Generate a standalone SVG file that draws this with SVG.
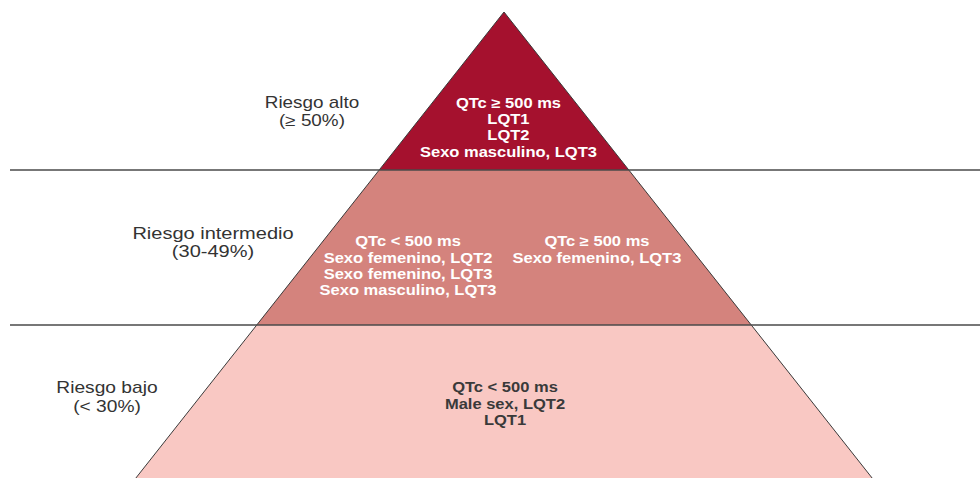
<svg xmlns="http://www.w3.org/2000/svg" width="980" height="478" viewBox="0 0 980 478">
  <style>
    .edge { stroke: #3a3a3a; stroke-width: 1; fill: none; }
    .rule { stroke: #4a4a4a; stroke-width: 1.3; }
    .lbl { font-family: "Liberation Sans", Arial, sans-serif; font-size: 16px; fill: #333333; text-anchor: middle; }
    .wt { font-family: "Liberation Sans", Arial, sans-serif; font-size: 14px; font-weight: bold; fill: #ffffff; text-anchor: middle; }
    .dt { font-family: "Liberation Sans", Arial, sans-serif; font-size: 14px; font-weight: bold; fill: #3a3a3a; text-anchor: middle; }
  </style>

  <rect width="980" height="478" fill="#ffffff"/>

  <!-- pyramid tiers -->
  <g id="tier-high">
    <polygon points="504,12 628.8,170 379.2,170" fill="#a5112e"/>
    <g transform="matrix(1.18,0,0,1,-89.8,0)">
      <text class="wt" x="507" y="108">QTc ≥ 500 ms</text>
      <text class="wt" x="507" y="124">LQT1</text>
      <text class="wt" x="507" y="140">LQT2</text>
      <text class="wt" x="507" y="157">Sexo masculino, LQT3</text>
    </g>
  </g>

  <g id="tier-mid">
    <polygon points="379.2,170 628.8,170 751.3,325 256.7,325" fill="#d4837d"/>
    <g transform="matrix(1.18,0,0,1,-73.4,0)">
      <text class="wt" x="408" y="246">QTc &lt; 500 ms</text>
      <text class="wt" x="408" y="263">Sexo femenino, LQT2</text>
      <text class="wt" x="408" y="279">Sexo femenino, LQT3</text>
      <text class="wt" x="408" y="295">Sexo masculino, LQT3</text>
    </g>
    <g transform="matrix(1.18,0,0,1,-107.5,0)">
      <text class="wt" x="597" y="246">QTc ≥ 500 ms</text>
      <text class="wt" x="597" y="263">Sexo femenino, LQT3</text>
    </g>
  </g>

  <g id="tier-low">
    <polygon points="256.7,325 751.3,325 872.1,478 135.9,478" fill="#f9c8c3"/>
    <g transform="matrix(1.18,0,0,1,-90.9,0)">
      <text class="dt" x="505" y="392">QTc &lt; 500 ms</text>
      <text class="dt" x="505" y="409">Male sex, LQT2</text>
      <text class="dt" x="505" y="425">LQT1</text>
    </g>
  </g>

  <!-- risk labels -->
  <g id="label-high" transform="matrix(1.18,0,0,1,-56.2,0)">
    <text class="lbl" x="312" y="108">Riesgo alto</text>
    <text class="lbl" x="312" y="126">(≥ 50%)</text>
  </g>
  <g id="label-mid" transform="matrix(1.25,0,0,1,-53.25,0)">
    <text class="lbl" x="213" y="239">Riesgo intermedio</text>
    <text class="lbl" x="213" y="257">(30-49%)</text>
  </g>
  <g id="label-low" transform="matrix(1.2,0,0,1,-21.4,0)">
    <text class="lbl" x="107" y="393">Riesgo bajo</text>
    <text class="lbl" x="107" y="412">(&lt; 30%)</text>
  </g>

  <!-- pyramid outline and tier dividers -->
  <g id="connectors">
    <polyline class="edge" points="135.9,478 504,12 872.1,478"/>
    <line class="rule" x1="10" y1="170" x2="980" y2="170"/>
    <line class="rule" x1="10" y1="325" x2="980" y2="325"/>
  </g>
</svg>
